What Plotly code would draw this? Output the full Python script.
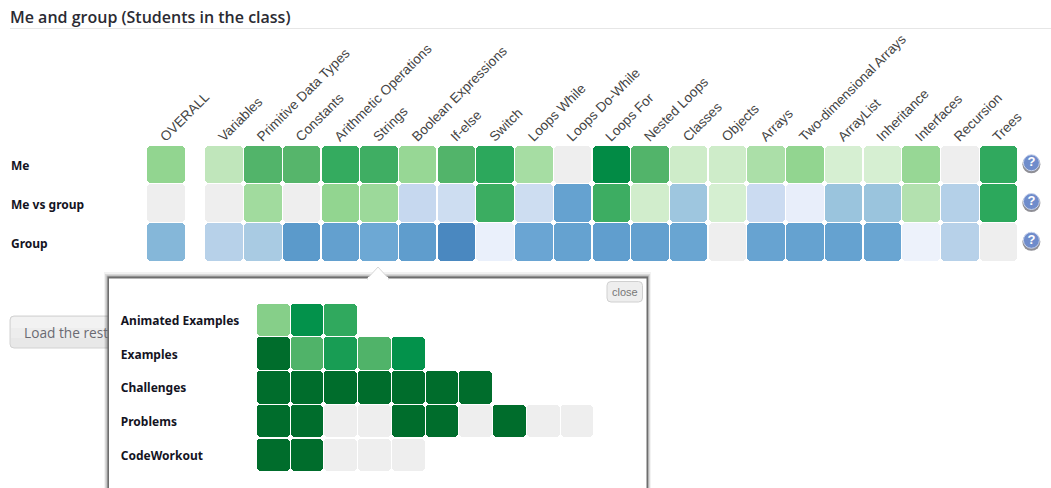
import plotly.graph_objects as go

W, H = 1051, 488

# ---------- data ----------
CATEGORIES = ["OVERALL", "Variables", "Primitive Data Types", "Constants", "Arithmetic Operations",
              "Strings", "Boolean Expressions", "If-else", "Switch", "Loops While", "Loops Do-While",
              "Loops For", "Nested Loops", "Classes", "Objects", "Arrays", "Two-dimensional Arrays",
              "ArrayList", "Inheritance", "Interfaces", "Recursion", "Trees"]
ROWS = ["Me", "Me vs group", "Group"]
ME = [.40, .22, .62, .60, .76, .71, .38, .62, .80, .32, 0, .92, .62, .14, .14, .30, .40, .08, .08, .38, 0, .78]
ME_VS_GROUP = [0, 0, .34, 0, .40, .36, -.20, -.17, .73, -.17, -.70, .72, .12, -.38, .09, -.18, -.06, -.40, -.40, .27, -.28, .80]
GROUP = [-.50, -.27, -.33, -.80, -.72, -.62, -.76, -1, -.05, -.65, -.70, -.75, -.72, -.66, 0, -.68, -.70, -.70, -.66, -.03, -.27, 0]

POPUP_ROWS = ["Animated Examples", "Examples", "Challenges", "Problems", "CodeWorkout"]
ANIMATED_EXAMPLES = [.44, .90, .78]
EXAMPLES = [1, .63, .85, .63, .90]
CHALLENGES = [1, 1, 1, 1, 1, 1, 1]
PROBLEMS = [1, 1, 0, 0, 1, 1, 0, 1, 0, 0]
CODEWORKOUT = [1, 1, 0, 0, 0]

TITLE = "Me and group (Students in the class)"

# ---------- style ----------
COLORSCALE = [
    [0.0, "#4a88c0"], [0.1, "#5b9acb"], [0.2, "#6fa9d5"], [0.3, "#9ac4dd"], [0.4, "#c6d8ef"],
    [0.475, "#eaf0fb"], [0.4995, "#f2f4fc"], [0.4999, "#eeeeee"], [0.5001, "#eeeeee"], [0.5005, "#e2f4de"],
    [0.6, "#c5e8c0"], [0.7, "#92d590"], [0.8, "#56b56b"], [0.9, "#2ca85c"], [0.95, "#03924b"], [1.0, "#006d2c"],
]
SANS = "Liberation Sans, Arial, sans-serif"
HEAD = "Open Sans, sans-serif"
ROW_FONT = dict(family="Noto Sans, sans-serif", size=12, color="#14141f")


def px(x):
    return x / W


def py(y):
    return 1 - y / H


def cells(rows):
    xs, ys, vs = [], [], []
    for r, row in enumerate(rows):
        for c, v in zip(row["cols"], row["vals"]):
            xs.append(c)
            ys.append(r)
            vs.append(v)
    return xs, ys, vs


def add_grid(fig, rows, xa, ya, bar_w, half):
    xs, ys, vs = cells(rows)
    overlap = 0.16
    # every cell is two halves meeting at its centre, so all four corners are rounded
    for sign in (1, -1):
        fig.add_trace(go.Bar(
            x=xs, y=[sign * (half + overlap)] * len(xs), base=[y - sign * overlap for y in ys], width=bar_w,
            marker=dict(color=vs, colorscale=COLORSCALE, cmin=-1, cmax=1, cornerradius=4, line_width=0),
            xaxis=xa, yaxis=ya, showlegend=False, hoverinfo="skip",
        ))


fig = go.Figure()

# main grid: OVERALL stands half a column apart from the topics
columns = [0] + [1.5 + i for i in range(len(CATEGORIES) - 1)]
add_grid(fig, [dict(cols=columns, vals=v) for v in (ME, ME_VS_GROUP, GROUP)], "x", "y", 0.968, 0.484)

# help icons after the last column
icon_x = [columns[-1] + 0.85] * len(ROWS)
rows_idx = list(range(len(ROWS)))
fig.add_trace(go.Scatter(x=icon_x, y=[r + 0.0 for r in rows_idx], mode="markers",
                         marker=dict(size=18, color="#8f8f96"), showlegend=False, hoverinfo="skip"))
fig.add_trace(go.Scatter(x=icon_x, y=[r - 0.04 for r in rows_idx], mode="markers+text", text=["?"] * 3,
                         textfont=dict(family=SANS, size=13, color="#ffffff", weight="bold"),
                         textposition="middle center",
                         marker=dict(size=16, color="#6f8ccb", line=dict(color="#c9d4ee", width=1)),
                         showlegend=False, hoverinfo="skip"))

# popup grid
popup_vals = [ANIMATED_EXAMPLES, EXAMPLES, CHALLENGES, PROBLEMS, CODEWORKOUT]
add_grid(fig, [dict(cols=list(range(len(v))), vals=v) for v in popup_vals], "x2", "y2", 0.969, 0.484)

MAIN_L, MAIN_PITCH, MAIN_X0 = 8.0, 38.72, 166.0
POP_L, POP_R, POP_PITCH, POP_X0 = 117.8, 640.0, 33.75, 273.0
MAIN_TOP, MAIN_ROW = 144.9, 38.77
POP_TOP, POP_ROW = 302.8, 33.75

axis_common = dict(showgrid=False, zeroline=False, showline=False, ticks="")
fig.update_layout(
    width=W, height=H, margin=dict(l=0, r=0, t=0, b=0, pad=0),
    paper_bgcolor="#ffffff", plot_bgcolor="rgba(0,0,0,0)", barmode="overlay",
    bargap=0, font=dict(family=SANS),
    xaxis=dict(domain=[px(MAIN_L), 1], range=[(MAIN_L - MAIN_X0) / MAIN_PITCH, (W - MAIN_X0) / MAIN_PITCH],
               side="top", tickmode="array", tickvals=columns, ticktext=CATEGORIES, tickangle=-45,
               ticklabelshift=-5, ticklabelstandoff=-3,
               tickfont=dict(family=SANS, size=13.6, color="#444444"), anchor="y", **axis_common),
    yaxis=dict(domain=[py(MAIN_TOP + 3 * MAIN_ROW), py(MAIN_TOP)], range=[2.5, -0.5], tickmode="array",
               tickvals=rows_idx, ticktext=[f"<b>{r}</b>" for r in ROWS], ticklabelposition="inside",
               ticklabelshift=-2, tickfont=ROW_FONT, anchor="x", **axis_common),
    xaxis2=dict(domain=[px(POP_L), px(POP_R)], range=[(POP_L - POP_X0) / POP_PITCH, (POP_R - POP_X0) / POP_PITCH],
                showticklabels=False, anchor="y2", **axis_common),
    yaxis2=dict(domain=[py(POP_TOP + 5 * POP_ROW), py(POP_TOP)], range=[4.5, -0.5], tickmode="array",
                tickvals=list(range(5)), ticktext=[f"<b>{r}</b>" for r in POPUP_ROWS], ticklabelposition="inside",
                ticklabelshift=-1, tickfont=ROW_FONT, anchor="x2", **axis_common),
)


def rrect(x0, y0, x1, y1, r):
    return (f"M{px(x0 + r)},{py(y0)} L{px(x1 - r)},{py(y0)} Q{px(x1)},{py(y0)} {px(x1)},{py(y0 + r)} "
            f"L{px(x1)},{py(y1 - r)} Q{px(x1)},{py(y1)} {px(x1 - r)},{py(y1)} "
            f"L{px(x0 + r)},{py(y1)} Q{px(x0)},{py(y1)} {px(x0)},{py(y1 - r)} "
            f"L{px(x0)},{py(y0 + r)} Q{px(x0)},{py(y0)} {px(x0 + r)},{py(y0)} Z")


def chrome(path, fill, line=None, width=1):
    return dict(type="path", xref="paper", yref="paper", layer="below", path=path, fillcolor=fill,
                line=dict(color=line or "rgba(0,0,0,0)", width=width if line else 0))


def rect(x0, y0, x1, y1):
    return rrect(x0, y0, x1, y1, 0.01)


shapes = [
    # heading rule
    dict(type="line", xref="paper", yref="paper", x0=px(10), x1=1, y0=py(28.5), y1=py(28.5),
         line=dict(color="#e6e6e6", width=1), layer="below"),
    # button behind the popup, light at the top and darker towards the bottom
    chrome(rrect(10, 316, 130, 348, 4), "#e8e8e8", "#d2d2d2"),
    chrome(rrect(11, 317, 130, 332, 3), "#f2f2f2"),
    chrome(rect(11, 328, 130, 338), "#ededed"),
    # popup shadow, border, face
    chrome(rect(104, 272, 651, 492), "rgba(0,0,0,0.05)"),
    chrome(rect(105, 274, 650, 492), "rgba(0,0,0,0.10)"),
    chrome(rect(106.5, 275.5, 649, 492), "rgba(0,0,0,0.18)"),
    chrome(rect(107.5, 276.5, 648, 492), "#6e6e6e"),
    chrome(rect(109, 278.5, 646.5, 492), "#ffffff"),
    # caret
    chrome(f"M{px(367)},{py(279)} L{px(378)},{py(267)} L{px(389)},{py(279)} Z", "#ffffff", "#d8d8d8"),
    chrome(rect(368, 277, 388, 280), "#ffffff"),
    # close button
    chrome(rrect(607, 281.5, 642.5, 302, 4), "#eeeeee", "#d0d0d0"),
]
fig.update_layout(shapes=shapes)

fig.add_annotation(text=TITLE, xref="paper", yref="paper", x=px(8), y=py(16.5), xanchor="left", yanchor="middle",
                   showarrow=False, font=dict(family=HEAD, size=16, color="#2b2b33", weight=600))
fig.add_annotation(text="Load the rest", xref="paper", yref="paper", x=px(22), y=py(332), xanchor="left",
                   yanchor="middle", showarrow=False, font=dict(family=HEAD, size=13.7, color="#6a6a72"))
fig.add_annotation(text="close", xref="paper", yref="paper", x=px(625), y=py(291.5), xanchor="center",
                   yanchor="middle", showarrow=False, font=dict(family=SANS, size=11, color="#777777"))

fig.write_html("out.html", post_script="document.body.style.margin='0';", config=dict(displayModeBar=False))
